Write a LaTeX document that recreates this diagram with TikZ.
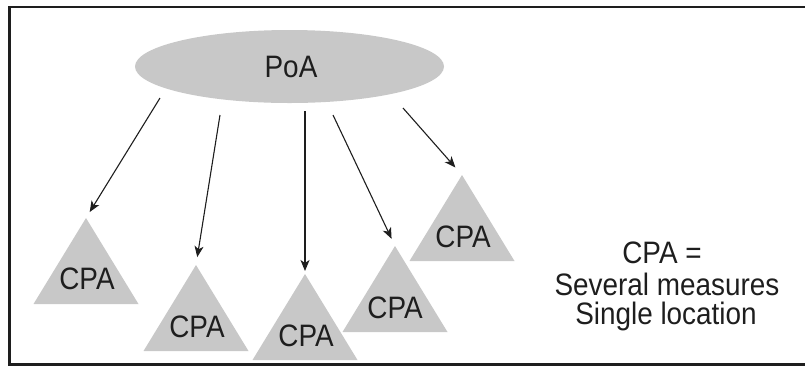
\documentclass[tikz,border=0pt]{standalone}
\usepackage{fontspec}
\setmainfont[FakeStretch=0.9]{Liberation Sans}
\usetikzlibrary{arrows.meta,shapes.geometric}
\definecolor{shade}{RGB}{200,200,200}
\definecolor{ink}{RGB}{30,30,30}
\tikzset{
  lbl/.style={font=\fontsize{31}{33}\selectfont, text=ink, inner sep=0pt, anchor=base},
  tri/.style={fill=shade},
  arr/.style={draw=ink, line width=1.1pt, -{Stealth[length=11pt,width=9pt,inset=3pt]}},
  frame/.style={draw=ink, line width=2.6pt}
}
\begin{document}
\begin{tikzpicture}[x=1pt,y=-1pt]
\useasboundingbox (0,0) rectangle (805,384);
% frame (right side lies beyond the page edge)
\draw[frame] (9.5,7) rectangle (815,364.5);
% PoA ellipse
\node[ellipse, fill=shade, minimum width=309pt, minimum height=73pt, inner sep=0pt] (poa) at (289.5,66.5) {};
\node[lbl] (poatext) at (291,77) {PoA};
% triangle apexes
\coordinate (t1) at (86,218);
\coordinate (t2) at (196,265);
\coordinate (t3) at (305,274);
\coordinate (t4) at (395,246);
\coordinate (t5) at (462,175);
\foreach \t in {t1,t2,t3,t4,t5}{
  \fill[tri] (\t) -- ++(-52.5,86) -- ++(105,0) -- cycle;
}
\node[lbl] (c1) at (87,289) {CPA};
\node[lbl] (c2) at (197,337) {CPA};
\node[lbl] (c3) at (306,346) {CPA};
\node[lbl] (c4) at (395,318) {CPA};
\node[lbl] (c5) at (463,247) {CPA};
% arrow start points
\coordinate (s1) at (160,98);
\coordinate (s2) at (220,115);
\coordinate (s3) at (305,111);
\coordinate (s4) at (333,115);
\coordinate (s5) at (403,108);
\draw[arr, shorten >=7pt] (s1) -- (t1);
\draw[arr, shorten >=8pt] (s2) -- (t2);
\draw[arr, shorten >=3pt, line width=1.5pt] (s3) -- (t3);
\draw[arr, shorten >=8pt] (s4) -- (t4);
\draw[arr, shorten >=10pt] (s5) -- (t5);
% legend
\node[lbl] (def1) at (662,263) {CPA =};
\node[lbl] (def2) at (667,295) {Several measures};
\node[lbl] (def3) at (666,324) {Single location};
\end{tikzpicture}
\end{document}
